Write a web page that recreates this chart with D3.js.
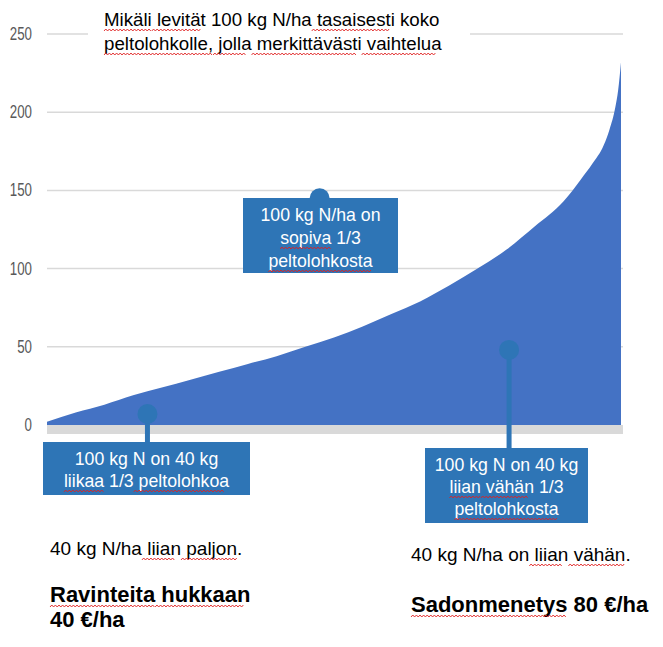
<!DOCTYPE html>
<html>
<head>
<meta charset="utf-8">
<script src="https://cdn.jsdelivr.net/npm/d3@7"></script>
<style>
html,body{margin:0;padding:0;background:#fff;}
svg{display:block;}
</style>
</head>
<body>
<svg id="chart" width="663" height="647"></svg>
<script>
// ---- data ----
const fieldShare = [0, 5, 10, 15, 20, 25, 30, 35, 40, 45, 50, 55, 60, 65, 70, 75, 80, 85, 90, 93, 95, 97, 98, 99, 99.5, 100];
const nNeed = [2, 8, 13, 19, 24, 29, 34, 39, 44, 50, 56, 63, 71, 79, 89, 100, 112, 127, 143, 157, 167, 179, 189, 203, 214, 232];
const yTicks = [0, 50, 100, 150, 200, 250];
const titleLines = ["Mikäli levität 100 kg N/ha tasaisesti koko", "peltolohkolle, jolla merkittävästi vaihtelua"];
const boxMid = ["100 kg N/ha on", "sopiva 1/3", "peltolohkosta"];
const boxLow = ["100 kg N on 40 kg", "liikaa 1/3 peltolohkoa"];
const boxHigh = ["100 kg N on 40 kg", "liian vähän 1/3", "peltolohkosta"];
const calloutShare = [17.5, 47.5, 80.5];
const calloutValue = [7, 145, 48];
const noteLeft = ["40 kg N/ha liian paljon."];
const noteLeftBold = ["Ravinteita hukkaan", "40 €/ha"];
const noteRight = ["40 kg N/ha on liian vähän."];
const noteRightBold = ["Sadonmenetys 80 €/ha"];
const flagged = ["Mikäli", "levität", "tasaisesti", "peltolohkolle,", "jolla", "merkittävästi", "vaihtelua",
  "sopiva", "peltolohkosta", "liikaa", "peltolohkoa", "liian", "vähän", "paljon.", "vähän.", "Ravinteita", "hukkaan", "Sadonmenetys"];

// ---- setup ----
const svg = d3.select("#chart");
const FONT = "'Liberation Sans', Arial, sans-serif";
const x = d3.scaleLinear().domain([0, 100]).range([47, 621]);
const y = d3.scaleLinear().domain([0, 250]).range([425, 34]);

// gridlines
svg.append("g").selectAll("line").data(yTicks.filter(d => d > 0)).join("line")
  .attr("x1", 47).attr("x2", 623)
  .attr("y1", d => y(d)).attr("y2", d => y(d))
  .attr("stroke", "#d9d9d9").attr("stroke-width", 1.5);

// baseline band
svg.append("rect").attr("x", 47).attr("y", y(0)).attr("width", 576).attr("height", 9).attr("fill", "#d9d9d9");

// y tick labels
svg.append("g").selectAll("text").data(yTicks).join("text")
  .attr("transform", d => `translate(32,${y(d) + 6}) scale(0.74,1)`)
  .attr("text-anchor", "end")
  .attr("font-family", FONT).attr("font-size", 18).attr("fill", "#595959")
  .text(d => d);

// area
const data = fieldShare.map((p, i) => ({p, v: nNeed[i]}));
svg.append("path").datum(data)
  .attr("fill", "#4472c4")
  .attr("d", d3.area().x(d => x(d.p)).y0(y(0)).y1(d => y(d.v)).curve(d3.curveMonotoneX));

// measuring helper
const meas = svg.append("text").attr("visibility", "hidden");
function measure(str, size, weight) {
  meas.attr("font-family", FONT).attr("font-size", size).attr("font-weight", weight).text(str);
  return meas.node().getComputedTextLength();
}
const wave = d3.line();
function squiggle(g, x0, x1, yy) {
  const pts = [];
  let k = 0;
  for (let xx = x0; xx <= x1; xx += 1.8, k++) pts.push([xx, yy + (k % 2 ? -1 : 1)]);
  g.append("path").attr("d", wave(pts)).attr("fill", "none").attr("stroke", "#e02020").attr("stroke-width", 0.9);
}
function textLine(g, str, xx, yy, size, weight, color, anchor) {
  const w = measure(str, size, weight);
  const start = anchor === "middle" ? xx - w / 2 : xx;
  g.append("text").attr("x", start).attr("y", yy)
    .attr("font-family", FONT).attr("font-size", size).attr("font-weight", weight)
    .attr("fill", color).text(str);
  const words = str.split(" ");
  words.forEach((wd, i) => {
    const prefix = words.slice(0, i).join(" ") + (i > 0 ? " " : "");
    const off = measure(prefix, size, weight);
    const ww = measure(wd, size, weight);
    if (flagged.includes(wd)) squiggle(g, start + off, start + off + ww, yy + 4);
  });
}

// title with white background
const tg = svg.append("g");
tg.append("rect").attr("x", 88).attr("y", 6).attr("width", 382).attr("height", 52).attr("fill", "#fff");
titleLines.forEach((t, i) => textLine(tg, t, 104, 26 + i * 24, 18.7, "normal", "#000", "start"));

// callouts
const BOX = "#2e75b6";
function callout(share, val, box, lines, lineY, size) {
  const g = svg.append("g");
  const cx = x(share), cy = y(val);
  if (box.y > cy) {
    g.append("line").attr("x1", cx).attr("x2", cx).attr("y1", cy).attr("y2", box.y + 2)
      .attr("stroke", BOX).attr("stroke-width", 5);
  }
  g.append("circle").attr("cx", cx).attr("cy", cy).attr("r", 10).attr("fill", BOX);
  g.append("rect").attr("x", box.x).attr("y", box.y).attr("width", box.w).attr("height", box.h).attr("fill", BOX);
  lines.forEach((t, i) => textLine(g, t, box.x + box.w / 2, lineY + i * box.lh, size, "normal", "#fff", "middle"));
}
callout(calloutShare[1], calloutValue[1], {x: 243, y: 198, w: 155, h: 75, lh: 23}, boxMid, 221, 17.7);
callout(calloutShare[0], calloutValue[0], {x: 43, y: 442, w: 207, h: 53, lh: 22}, boxLow, 465, 17.7);
callout(calloutShare[2], calloutValue[2], {x: 425, y: 448, w: 163, h: 75, lh: 22}, boxHigh, 471, 17.7);

// notes
const ng = svg.append("g");
noteLeft.forEach((t, i) => textLine(ng, t, 50, 555, 19, "normal", "#000", "start"));
noteLeftBold.forEach((t, i) => textLine(ng, t, 50, 602 + i * 25, 22, "bold", "#000", "start"));
noteRight.forEach((t, i) => textLine(ng, t, 411, 561, 19, "normal", "#000", "start"));
noteRightBold.forEach((t, i) => textLine(ng, t, 411, 612, 22, "bold", "#000", "start"));
meas.remove();
</script>
</body>
</html>
